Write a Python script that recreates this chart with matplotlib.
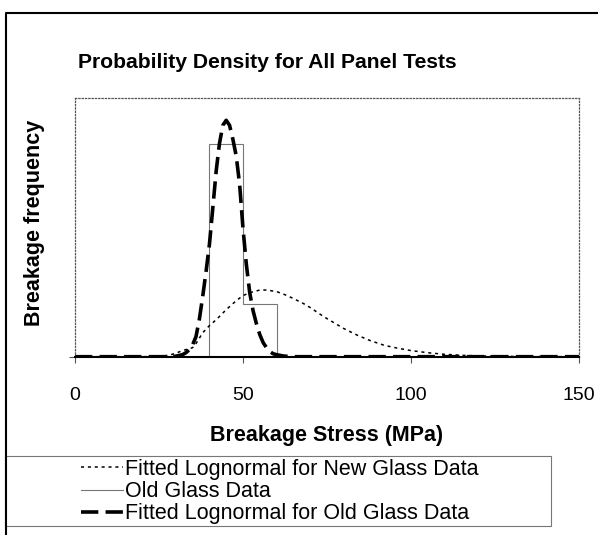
import matplotlib
matplotlib.use('Agg')
import matplotlib.pyplot as plt
from matplotlib.lines import Line2D
from matplotlib.patches import Rectangle

plt.rcParams['font.family'] = ['Liberation Sans', 'DejaVu Sans']

# Old glass data (histogram, density x 1000 per MPa)
old_edges = [40, 50, 60]
old_freq = [80, 20]

# Fitted lognormal for old glass data
old_fit_x = [0, 25, 28, 30, 32, 33, 34, 35, 36, 37, 38, 39, 40, 41, 42, 43, 44, 45,
             46, 47, 48, 49, 50, 51, 52, 53, 54, 55, 56, 57, 58, 59, 60, 62, 65, 150]
old_fit_y = [0, 0, 0, 0.19, 0.75, 1.5, 2.6, 4.5, 7.5, 14, 22.6, 32, 42.2, 55.8, 69.7, 80.3, 87.1, 89,
             87.1, 81.8, 75.4, 64.8, 48.3, 34.7, 24.1, 17.3, 12.4, 8.3, 5.3, 3.4, 1.9, 1.1, 0.75, 0.26, 0, 0]

# Fitted lognormal for new glass data
new_fit_x = [0, 20, 25, 28, 30, 32, 35, 36, 38, 40, 42, 45, 48, 50, 52, 55, 57, 60, 62,
             65, 68, 70, 74, 78, 80, 84, 88, 92, 96, 100, 105, 110, 115, 120, 130, 140, 150]
new_fit_y = [0, 0, 0.11, 0.57, 1.3, 2.3, 3.4, 4.9, 9.0, 11.7, 13.9, 17.7, 21.1, 23.0, 24.1, 25.1, 25.1, 24.5, 23.6,
             21.9, 20.0, 18.5, 15.1, 12.1, 10.6, 8.1, 6.0, 4.3, 3.2, 2.3, 1.5, 0.9, 0.53, 0.3, 0.11, 0.04, 0]

x_ticks = [0, 50, 100, 150]

fig = plt.figure(figsize=(5.98, 5.35), dpi=100)
ax = fig.add_axes([75 / 598, 1 - 356.7 / 535, 504 / 598, 259 / 535])

# Kurven zeichnen
ax.plot(new_fit_x, new_fit_y, color='black', lw=1.1, linestyle=(0, (2, 2.5)),
        label='Fitted Lognormal for New Glass Data')
ax.stairs(old_freq, old_edges, baseline=0, color='#777777', lw=0.8,
          label='Old Glass Data')
ax.plot(old_fit_x, old_fit_y, color='black', lw=2.6, linestyle=(0, (4.8, 2.0)),
        label='Fitted Lognormal for Old Glass Data')

ax.set_xlim(0, 150)
ax.set_ylim(0, 97.5)
ax.set_xticks(x_ticks)
ax.set_xticklabels([str(t) for t in x_ticks], fontsize=14)
ax.set_yticks([0])
ax.set_yticklabels([''])
ax.tick_params(axis='x', direction='out', length=4, color='#555555', pad=18)
ax.tick_params(axis='y', direction='out', length=4, color='#555555')

for side in ['top', 'left', 'right']:
    ax.spines[side].set_linestyle(':')
    ax.spines[side].set_color('#555555')
    ax.spines[side].set_linewidth(0.9)
ax.spines['bottom'].set_color('black')
ax.spines['bottom'].set_linewidth(1.5)

ax.set_xlabel('Breakage Stress (MPa)', fontsize=15.5, fontweight='bold')
ax.xaxis.set_label_coords(0.5, -0.262)

# Titel und y-Beschriftung
fig.text(267 / 598, 1 - 63 / 535, 'Probability Density for All Panel Tests',
         fontsize=15.2, fontweight='bold', ha='center', va='center')
fig.text(35 / 598, 1 - 223 / 535, 'Breakage frequency', fontsize=15.5, fontweight='bold',
         rotation=90, ha='center', va='center')

# Legende
handles, labels = ax.get_legend_handles_labels()
fig.legend(handles, labels, loc='upper left', bbox_to_anchor=(81 / 598, 1 - 459 / 535),
           frameon=False, fontsize=15.5, handlelength=1.94, handletextpad=0.09,
           labelspacing=0.05, borderpad=0, borderaxespad=0)
fig.add_artist(Rectangle((5 / 598, 1 - 526 / 535), 546 / 598, 70 / 535,
                         transform=fig.transFigure, fill=False, edgecolor='#777777', lw=0.8))

# Rahmen links und oben
fig.add_artist(Line2D([6 / 598, 6 / 598, 1], [0, 1 - 12.5 / 535, 1 - 12.5 / 535],
                      transform=fig.transFigure, color='black', lw=1.5))

fig.savefig('out.png', dpi=100)
